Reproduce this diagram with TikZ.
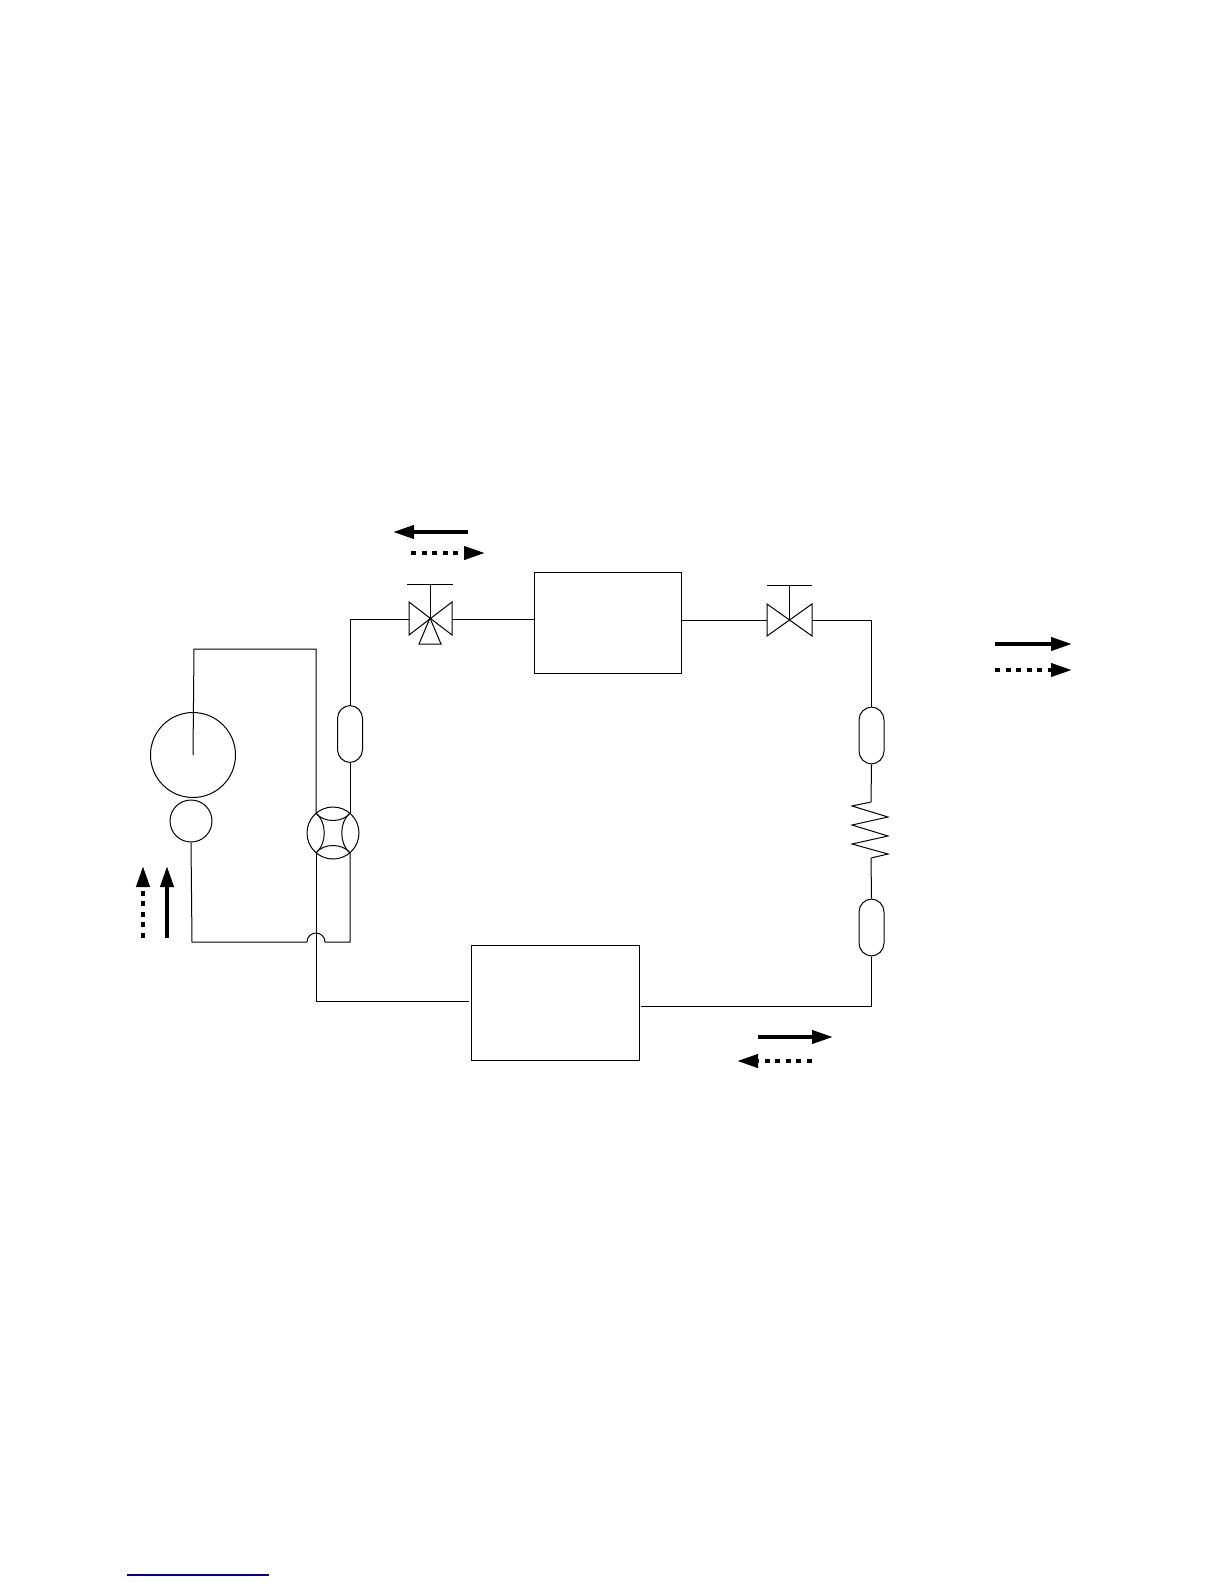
\documentclass[tikz,border=0pt]{standalone}
\usepackage{xcolor}
\usepackage{tikz}
\usetikzlibrary{arrows.meta}
\definecolor{linknavy}{RGB}{0,0,150}
\tikzset{
	pipe/.style={line width=0.5pt,black},
	unitbox/.style={draw,line width=0.5pt,rectangle,inner sep=0pt,minimum width=#1},
	vessel/.style={draw,line width=0.5pt,rectangle,rounded corners=6.5pt,inner sep=0pt,minimum width=12.5pt,minimum height=28.5pt},
	round/.style={draw,line width=0.5pt,circle,inner sep=0pt,minimum size=#1},
	flow/.style={line width=2pt,-{Triangle[length=10.5pt,width=6.5pt]}},
	flowdash/.style={flow,dash pattern=on 2.5pt off 2.8pt}
}
\begin{document}
\begin{tikzpicture}[x=0.5pt,y=-0.5pt]
	\useasboundingbox (0,0) rectangle (1224,1584);
	\node [unitbox=73.5pt,minimum height=50.5pt] (indoor) at (607.5,622.5) {};
	\node [unitbox=84pt,minimum height=57.5pt] (outdoor) at (555,1002.5) {};
	\node [round=42.5pt] (accum) at (193,755) {};
	\node [round=21pt] (comp) at (191,821) {};
	\node [round=26pt] (fourway) at (333,833) {};
	\node [vessel] (filterA) at (350,734) {};
	\node [vessel] (filterB) at (871.5,735.5) {};
	\node [vessel] (filterC) at (871.5,927.5) {};
	\coordinate (valveA) at (430,618);
	\coordinate (valveB) at (789,620);
	\coordinate (fourNW) at (316,813);
	\coordinate (fourNE) at (350,813);
	\coordinate (fourSW) at (316,853);
	\coordinate (fourSE) at (350,853);
	\coordinate (hopW) at (307,942);
	\coordinate (hopE) at (325,942);
	\coordinate (coilTop) at (871,802);
	\coordinate (coilEnd) at (871,858);
	\draw [pipe] (409,602) -- (452,635) -- (452,602) -- (409,635) -- cycle;
	\draw [pipe] (419,644) -- (441,644) -- (valveA) -- cycle;
	\draw [pipe] (valveA) -- (430,584);
	\draw [pipe] (407,584) -- (453,584);
	\draw [pipe] (767,604) -- (812,636) -- (812,604) -- (767,636) -- cycle;
	\draw [pipe] (valveB) -- (789,585);
	\draw [pipe] (767,585) -- (812,585);
	\draw [pipe] (fourNW) .. controls (323,823) and (343,823) .. (fourNE);
	\draw [pipe] (fourNE) .. controls (339,822) and (339,844) .. (fourSE);
	\draw [pipe] (fourSE) .. controls (343,843) and (323,843) .. (fourSW);
	\draw [pipe] (fourSW) .. controls (327,844) and (327,822) .. (fourNW);
	\draw [pipe] (accum.center) -- (194,649) -- (316,649) -- (fourNW);
	\draw [pipe] (fourNE) -- (filterA.south);
	\draw [pipe] (filterA.north) -- (350,619) -- (409,619);
	\draw [pipe] (452,619) -- (indoor.west |- 0,619);
	\draw [pipe] (indoor.east |- 0,620) -- (767,620);
	\draw [pipe] (812,620) -- (871.5,620) -- (filterB.north);
	\draw [pipe] (filterB.south) -- (coilTop);
	\draw [pipe] (coilTop) -- (852,806) -- (888,817) -- (852,825) -- (888,836) -- (852,844) -- (888,854) -- (coilEnd);
	\draw [pipe] (coilEnd) -- (filterC.north);
	\draw [pipe] (filterC.south) -- (871.5,1006) -- (641,1006);
	\draw [pipe] (comp.south) -- (192,942) -- (hopW);
	\draw [pipe] (hopW) arc (180:360:9) -- (350,942) -- (fourSE);
	\draw [pipe] (fourSW) -- (316,1001) -- (469,1001);
	\draw [flow] (468,532) -- (393,532);
	\draw [flowdash] (411,553) -- (485,553);
	\draw [flow] (995,644) -- (1072,644);
	\draw [flowdash] (995,670) -- (1072,670);
	\draw [flow] (758,1037) -- (833,1037);
	\draw [flowdash] (812,1061) -- (737,1061);
	\draw [flow] (167,938) -- (167,866);
	\draw [flowdash] (143,938) -- (143,866);
	\draw [linknavy,line width=0.6pt] (127,1575) -- (269,1575);
\end{tikzpicture}
\end{document}
